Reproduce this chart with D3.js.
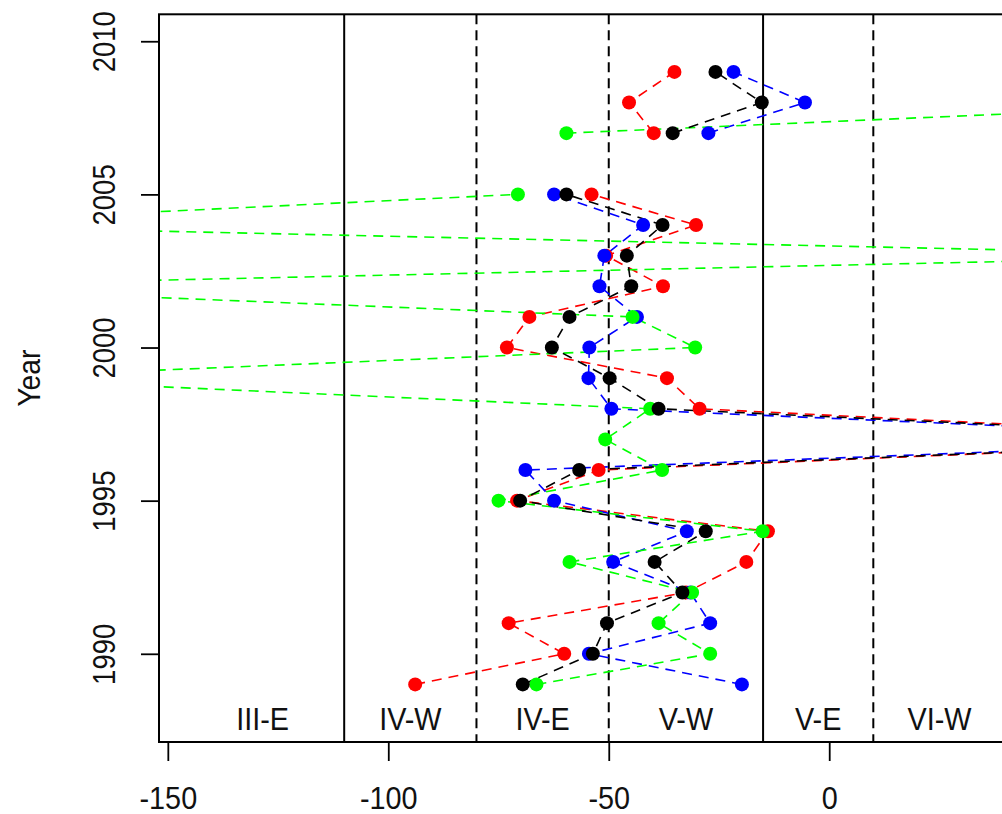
<!DOCTYPE html>
<html>
<head>
<meta charset="utf-8">
<script src="https://cdn.jsdelivr.net/npm/d3@7"></script>
<style>
  html, body { margin: 0; padding: 0; background: #fff; overflow: hidden; }
  text { font-family: "Liberation Sans", Arial, sans-serif; fill: #111; }
</style>
</head>
<body>
<svg id="chart" width="1002" height="814"></svg>
<script>
'use strict';

// years on the y axis, null = no value that year
const years = [1989, 1990, 1991, 1992, 1993, 1994, 1995, 1996, 1997, 1998, 1999,
  2000, 2001, 2002, 2003, 2004, 2005, 2006, 2007, 2008, 2009];

const blackVals = [-69.5, -53.6, -50.4, -33.3, -39.6, -28.0, -70.1, -56.7, 110, -38.7, -49.8,
  -62.9, -58.9, -44.9, -45.9, -37.8, -59.6, null, -35.5, -15.3, -25.8];
const redVals = [-93.9, -60.1, -72.7, -32.5, -18.8, -13.9, -70.8, -52.3, 110, -29.4, -36.8,
  -73.1, -68.0, -37.7, -50.6, -30.2, -53.9, null, -39.8, -45.4, -35.1];
const blueVals = [-19.8, -54.5, -27.0, -31.5, -49.0, -32.3, -62.4, -68.9, 110, -49.4, -54.6,
  -54.4, -43.6, -52.1, -51.0, -42.2, -62.4, null, -27.4, -5.5, -21.7];
const greenVals = [-66.4, -27.0, -38.7, -31.1, -58.9, -15.1, -75.0, -37.9, -50.8, -40.6, -195,
  -30.4, -44.6, -215, 100, -215, -70.6, null, -59.6, 100, null];

const xTicks = [-150, -100, -50, 0];
const yTicks = [1990, 1995, 2000, 2005, 2010];

// zone boundaries and names along the bottom
const solidBounds = [-110, -15];
const dashedBounds = [-80, -50, 10];
const zoneNames = ['III-E', 'IV-W', 'IV-E', 'V-W', 'V-E', 'VI-W'];
const zoneCentres = [-128.5, -95, -65, -32.5, -2.5, 25];

const series = [
  { color: '#ff0000', values: redVals },
  { color: '#0000ff', values: blueVals },
  { color: '#00ff00', values: greenVals },
  { color: '#000000', values: blackVals },
];

const box = { left: 159, right: 1010, top: 14.3, bottom: 742 };

const svg = d3.select('#chart');

const x = d3.scaleLinear().domain([-152, 41]).range([box.left, box.right]);
const y = d3.scaleLinear().domain([1987.12, 2010.88]).range([box.bottom, box.top]);

svg.append('defs').append('clipPath').attr('id', 'plotclip')
  .append('rect')
  .attr('x', box.left).attr('y', box.top)
  .attr('width', box.right - box.left).attr('height', box.bottom - box.top);

// zone boundaries
const refs = svg.append('g');
refs.selectAll('line.solid')
  .data(solidBounds)
  .join('line')
  .attr('x1', d => x(d)).attr('x2', d => x(d))
  .attr('y1', box.top).attr('y2', box.bottom)
  .attr('stroke', '#000').attr('stroke-width', 2);
refs.selectAll('line.dash')
  .data(dashedBounds)
  .join('line')
  .attr('x1', d => x(d)).attr('x2', d => x(d))
  .attr('y1', box.top).attr('y2', box.bottom)
  .attr('stroke', '#000').attr('stroke-width', 2)
  .attr('stroke-dasharray', '10,6');

// series
const plot = svg.append('g').attr('clip-path', 'url(#plotclip)');

const line = d3.line()
  .defined(d => d.v !== null)
  .x(d => x(d.v))
  .y(d => y(d.year));

series.forEach(s => {
  const pts = years.map((yr, i) => ({ year: yr, v: s.values[i] }));
  plot.append('path')
    .datum(pts)
    .attr('fill', 'none')
    .attr('stroke', s.color)
    .attr('stroke-width', 1.6)
    .attr('stroke-dasharray', '10,7')
    .attr('d', line);
});

series.forEach(s => {
  const pts = years.map((yr, i) => ({ year: yr, v: s.values[i] }))
    .filter(d => d.v !== null);
  plot.append('g').selectAll('circle')
    .data(pts)
    .join('circle')
    .attr('cx', d => x(d.v))
    .attr('cy', d => y(d.year))
    .attr('r', 7)
    .attr('fill', s.color);
});

// zone names
svg.append('g').selectAll('text')
  .data(zoneNames)
  .join('text')
  .attr('text-anchor', 'middle')
  .attr('font-size', 32)
  .attr('transform', (d, i) => `translate(${x(zoneCentres[i])},730) scale(0.9,1)`)
  .text(d => d);

// axes
const xAxis = d3.axisBottom(x).tickValues(xTicks).tickSize(19).tickFormat(d3.format('d'));
const gx = svg.append('g')
  .attr('transform', `translate(0,${box.bottom})`)
  .call(xAxis);
gx.select('.domain').remove();
gx.selectAll('.tick line').attr('stroke', '#000').attr('stroke-width', 1.8);
gx.selectAll('.tick text')
  .attr('font-size', 32)
  .attr('font-family', null)
  .attr('y', 67).attr('dy', null)
  .attr('transform', 'scale(0.9,1)')
  .text(d => (d < 0 ? '-' + Math.abs(d) : d));

const yAxis = d3.axisLeft(y).tickValues(yTicks).tickSize(18).tickFormat(d3.format('d'));
const gy = svg.append('g')
  .attr('transform', `translate(${box.left},0)`)
  .call(yAxis);
gy.select('.domain').remove();
gy.selectAll('.tick line').attr('stroke', '#000').attr('stroke-width', 1.8);
gy.selectAll('.tick text')
  .attr('font-size', 32)
  .attr('font-family', null)
  .attr('text-anchor', 'middle')
  .attr('x', 0).attr('y', -44).attr('dy', null)
  .attr('transform', 'rotate(-90) scale(0.86,1)');

svg.append('text')
  .attr('text-anchor', 'middle')
  .attr('font-size', 32)
  .attr('transform', `translate(40,${(box.top + box.bottom) / 2}) rotate(-90) scale(0.88,1)`)
  .text('Year');

// plot box (right side runs off the picture)
svg.append('rect')
  .attr('x', box.left).attr('y', box.top)
  .attr('width', box.right - box.left).attr('height', box.bottom - box.top)
  .attr('fill', 'none')
  .attr('stroke', '#000')
  .attr('stroke-width', 2);
</script>
</body>
</html>
